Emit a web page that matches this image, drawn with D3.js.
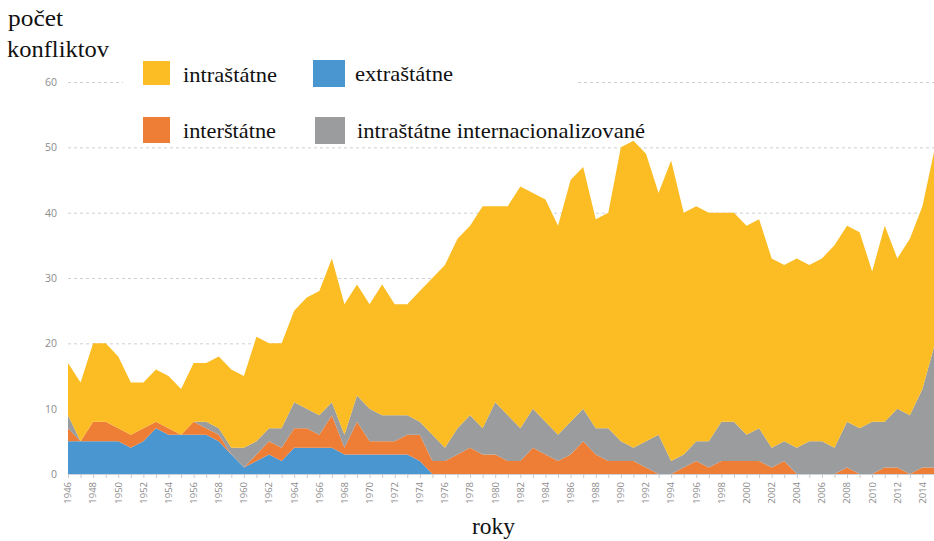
<html>
<head>
<script src="https://cdn.jsdelivr.net/npm/d3@7"></script>
<style>
  body { margin: 0; background: #fff; }
</style>
</head>
<body>
<script>

var width = 934;
var height = 541;
var serif = "'Liberation Serif', 'Times New Roman', Times, 'DejaVu Serif', serif";
var sans = "'Open Sans', 'Noto Sans', sans-serif";

var years = [1946,1947,1948,1949,1950,1951,1952,1953,1954,1955,1956,1957,1958,1959,
  1960,1961,1962,1963,1964,1965,1966,1967,1968,1969,1970,1971,1972,1973,1974,1975,
  1976,1977,1978,1979,1980,1981,1982,1983,1984,1985,1986,1987,1988,1989,1990,1991,
  1992,1993,1994,1995,1996,1997,1998,1999,2000,2001,2002,2003,2004,2005,2006,2007,
  2008,2009,2010,2011,2012,2013,2014,2015];

// extraštátne
var extra = [5,5,5,5,5,4,5,7,6,6,6,6,5,3,
  1,2,3,2,4,4,4,4,3,3,3,3,3,3,2,0,
  0,0,0,0,0,0,0,0,0,0,0,0,0,0,0,0,
  0,0,0,0,0,0,0,0,0,0,0,0,0,0,0,0,
  0,0,0,0,0,0,0,0];
// interštátne
var inter = [2,0,3,3,2,2,2,1,1,0,2,1,1,0,
  0,1,2,2,3,3,2,5,1,5,2,2,2,3,4,2,
  2,3,4,3,3,2,2,4,3,2,3,5,3,2,2,2,
  1,0,0,1,2,1,2,2,2,2,1,2,0,0,0,0,
  1,0,0,1,1,0,1,1];
// intraštátne internacionalizované
var intl = [2,0,0,0,0,0,0,0,0,0,0,1,1,1,
  3,2,2,3,4,3,3,2,2,4,5,4,4,3,2,4,
  2,4,5,4,8,7,5,6,5,4,5,5,4,5,3,2,
  4,6,2,2,3,4,6,6,4,5,3,3,4,5,5,4,
  7,7,8,7,9,9,12,19];
// intraštátne
var intra = [8,9,12,12,11,8,7,8,8,7,9,9,11,12,
  11,16,13,13,14,17,19,22,20,17,16,20,17,17,20,24,
  28,29,29,34,30,32,37,33,34,32,37,37,32,33,45,47,
  44,37,46,37,36,35,32,32,32,32,29,27,29,27,28,31,
  30,30,23,30,23,27,28,30];

var yTicks = [0, 10, 20, 30, 40, 50, 60];
var xTickYears = years.filter(function (y) { return y % 2 === 0; });

var keys = ['extra', 'inter', 'intl', 'intra'];
var colors = {
  extra: '#4a96d1',
  inter: '#ee7e35',
  intl: '#9a9c9d',
  intra: '#fbbd23'
};
var legendItems = [
  { key: 'intra', label: 'intraštátne', x: 143, y: 61, w: 27, h: 24, tl: 94 },
  { key: 'extra', label: 'extraštátne', x: 313, y: 60, w: 32, h: 27, tl: 98 },
  { key: 'inter', label: 'interštátne', x: 143, y: 117, w: 27, h: 26, tl: 93 },
  { key: 'intl', label: 'intraštátne internacionalizované', x: 315, y: 117, w: 30, h: 27, tl: 288 }
];

var table = years.map(function (y, i) {
  return { year: y, extra: extra[i], inter: inter[i], intl: intl[i], intra: intra[i] };
});

var svg = d3.select('body').append('svg')
  .attr('width', width)
  .attr('height', height);

svg.append('rect').attr('width', width).attr('height', height).attr('fill', '#fff');

var x = d3.scaleLinear().domain([1946, 2015]).range([68, 935]);
var y = d3.scaleLinear().domain([0, 60]).range([474, 82]);

// grid + y labels
var yAxis = svg.append('g')
  .attr('transform', 'translate(68,0)')
  .call(d3.axisLeft(y).tickValues(yTicks).tickSize(0).tickPadding(11));
yAxis.select('.domain').remove();
yAxis.selectAll('text')
  .attr('fill', '#8c8c8c')
  .style('font-family', sans)
  .style('font-size', '10.5px');

svg.append('g').selectAll('line')
  .data(yTicks.filter(function (d) { return d > 0; }))
  .enter().append('line')
  .attr('x1', 68).attr('x2', width)
  .attr('y1', function (d) { return y(d) + 0.5; })
  .attr('y2', function (d) { return y(d) + 0.5; })
  .style('stroke', '#cfcfcf')
  .style('stroke-dasharray', '3,3');

// legend background hides part of the 60 line
svg.append('rect')
  .attr('x', 123).attr('y', 50)
  .attr('width', 454).attr('height', 58)
  .attr('fill', '#fff');

var series = d3.stack().keys(keys)(table);

var area = d3.area()
  .x(function (d) { return x(d.data.year); })
  .y0(function (d) { return y(d[0]); })
  .y1(function (d) { return y(d[1]); });

svg.append('g').selectAll('path')
  .data(series)
  .enter().append('path')
  .attr('d', area)
  .style('fill', function (d) { return colors[d.key]; });

// x axis
var xAxis = svg.append('g')
  .attr('transform', 'translate(0,' + y(0) + ')')
  .call(d3.axisBottom(x).tickValues(years).tickSize(4).tickFormat(''));
xAxis.select('.domain').style('stroke', '#c9d3dc');
xAxis.selectAll('.tick line').style('stroke', '#c8c8c8');

svg.append('g').selectAll('text')
  .data(xTickYears)
  .enter().append('text')
  .attr('transform', function (d) { return 'translate(' + x(d) + ',482) rotate(-90)'; })
  .attr('dy', '0.35em')
  .attr('text-anchor', 'end')
  .style('font-family', sans)
  .style('font-size', '9.5px')
  .style('fill', '#8c8c8c')
  .text(function (d) { return d; });

// legend
var leg = svg.append('g');
leg.selectAll('rect')
  .data(legendItems)
  .enter().append('rect')
  .attr('x', function (d) { return d.x; })
  .attr('y', function (d) { return d.y; })
  .attr('width', function (d) { return d.w; })
  .attr('height', function (d) { return d.h; })
  .style('fill', function (d) { return colors[d.key]; });
leg.selectAll('text')
  .data(legendItems)
  .enter().append('text')
  .attr('x', function (d) { return d.x + (d.x < 200 ? 40 : 42); })
  .attr('y', function (d) { return d.y + 21; })
  .attr('textLength', function (d) { return d.tl; })
  .attr('lengthAdjust', 'spacingAndGlyphs')
  .style('font-family', serif)
  .style('font-size', '22px')
  .style('fill', '#111')
  .text(function (d) { return d.label; });

// axis titles
function title(txt, tx, ty, tl) {
  svg.append('text')
    .attr('x', tx).attr('y', ty)
    .attr('textLength', tl).attr('lengthAdjust', 'spacingAndGlyphs')
    .style('font-family', serif)
    .style('font-size', '24px')
    .style('fill', '#111')
    .text(txt);
}
title('počet', 8, 26, 55);
title('konfliktov', 7, 57, 102);
title('roky', 472, 534, 43);

</script>
</body>
</html>
